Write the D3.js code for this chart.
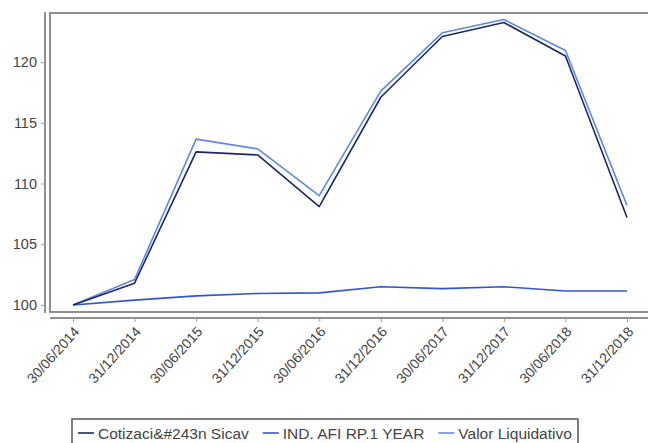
<!DOCTYPE html>
<html>
<head>
<meta charset="utf-8">
<script src="https://cdn.jsdelivr.net/npm/d3@7"></script>
<style>
body { margin: 0; background: #fff; }
text { font-family: "Liberation Sans", Arial, sans-serif; fill: #444; }
</style>
</head>
<body>
<svg class="chart" width="648" height="443"></svg>
<script>
var dates = ["30/06/2014","31/12/2014","30/06/2015","31/12/2015","30/06/2016","31/12/2016","30/06/2017","31/12/2017","30/06/2018","31/12/2018"];
var cotizacion = [100, 101.8, 112.6, 112.35, 108.1, 117.1, 122.1, 123.25, 120.5, 107.2];
var indAfi = [100, 100.4, 100.75, 100.95, 101.0, 101.5, 101.35, 101.5, 101.15, 101.15];
var valorLiq = [100, 102.1, 113.65, 112.85, 109.0, 117.6, 122.4, 123.5, 120.95, 108.2];
var yTicks = [100, 105, 110, 115, 120];
var seriesNames = ["Cotizaci&#243n Sicav", "IND. AFI RP.1 YEAR", "Valor Liquidativo"];
var seriesColors = ["#1d2862", "#2f55d4", "#5b88ea"];

var svg = d3.select(".chart");

var plotLeft = 50, plotTop = 13, plotBottom = 312;

var x = d3.scalePoint().domain(dates).range([73, 627]);
var y = d3.scaleLinear().domain([99.424, 124.033]).range([plotBottom, plotTop]);

// plot frame (right side runs off the picture)
svg.append("path")
.attr("d", "M648," + plotTop + "H" + plotLeft + "V" + plotBottom + "H648")
.attr("fill", "none")
.attr("stroke", "#8f8f8f")
.attr("stroke-width", 2);

// y axis
var yAxis = svg.append("g")
.attr("transform", "translate(45,0)")
.call(d3.axisLeft(y).tickValues(yTicks).tickSize(4).tickPadding(4));
yAxis.select(".domain").attr("d", "M0,12V313").attr("stroke", "#8f8f8f").attr("stroke-width", 2);
yAxis.selectAll(".tick line").attr("stroke", "#999");
yAxis.selectAll(".tick text").style("font-size", "14.5px").attr("fill", "#444");

// x axis
var xAxis = svg.append("g")
.attr("transform", "translate(0,318)")
.call(d3.axisBottom(x).tickSize(4));
xAxis.select(".domain").attr("d", "M50,0H648").attr("stroke", "#8f8f8f").attr("stroke-width", 2);
xAxis.selectAll(".tick line").attr("stroke", "#999");
xAxis.selectAll(".tick text")
.style("font-size", "14px")
.attr("fill", "#444")
.attr("text-anchor", "end")
.attr("dy", "0.35em")
.attr("transform", "translate(3,11) rotate(-48)")
.attr("x", 0).attr("y", 0);

var line = d3.line()
.x(function(d, i) { return x(dates[i]); })
.y(function(d) { return y(d); });

var allSeries = [cotizacion, indAfi, valorLiq];
// draw valor first so the dark line sits on top at the overlap
[2, 1, 0].forEach(function(k) {
  svg.append("path")
  .datum(allSeries[k])
  .attr("fill", "none")
  .attr("stroke", seriesColors[k])
  .attr("stroke-width", 1.6)
  .attr("stroke-linejoin", "round")
  .attr("d", line);
});

// legend
var legend = svg.append("g");
legend.append("rect")
.attr("x", 72).attr("y", 419).attr("width", 506).attr("height", 30)
.attr("fill", "#fff").attr("stroke", "#555").attr("stroke-width", 1.5);

var lx = 78;
seriesNames.forEach(function(name, k) {
  legend.append("line")
  .attr("x1", lx).attr("x2", lx + 16)
  .attr("y1", 433).attr("y2", 433)
  .attr("stroke", seriesColors[k]).attr("stroke-width", 1.6);
  var t = legend.append("text")
  .attr("x", lx + 20).attr("y", 439)
  .style("font-size", "15.5px")
  .attr("fill", "#333")
  .text(name);
  lx += 20 + t.node().getComputedTextLength() + 14;
});
</script>
</body>
</html>
